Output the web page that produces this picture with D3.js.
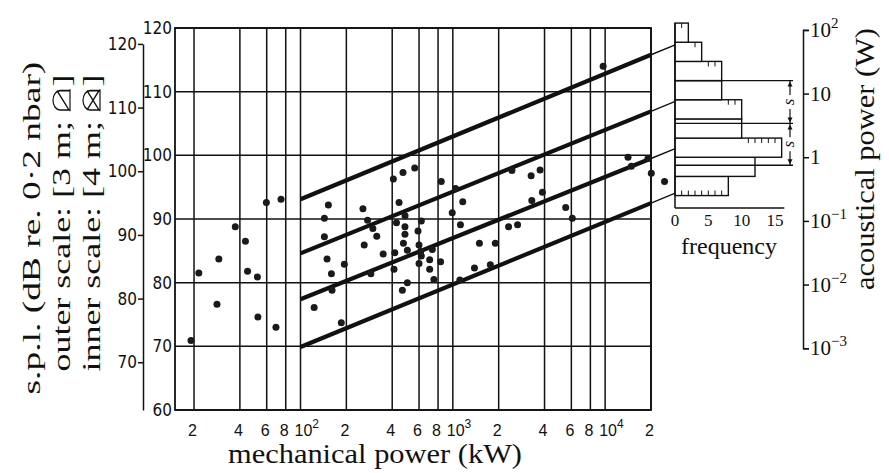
<!DOCTYPE html>
<html>
<head>
<meta charset="utf-8">
<script src="https://cdn.jsdelivr.net/npm/d3@7"></script>
<style>
body { margin: 0; background: #fff; }
svg { display: block; }
.sans { font-family: 'Liberation Sans Narrow', 'DejaVu Sans Condensed', 'Liberation Sans', sans-serif; fill: #111; }
.sansx { font-family: 'Liberation Sans', Arial, sans-serif; fill: #111; }
.serif { font-family: 'Liberation Serif', 'DejaVu Serif', serif; fill: #111; }
</style>
</head>
<body>
<svg id="chart"></svg>
<script>
// mechanical power (kW) and s.p.l. on the inner scale (dB) of every machine
var mechPower = [19.1,21.5,29.1,28.3,37.3,43.5,44.9,52.1,52.5,69,
    59.7,74.5,143.5,152.4,143.5,149.4,159.6,161,122.9,194,
    185.3,257,275.6,298.5,316.7,262,349,289.7,411,466.5,
    503,416,426.6,443.6,485.6,485,485,474,503,591,
    621,600,621,615,600,704.7,704.7,733,831,751,
    407,471,562,840,1042,1162,991,1122,1495,1901,
    2323,2661,1387,1763,1112,5508,6086,2443,3266,3740,
    3873,3300,14130,14860,19090,20090,24550,9700];
var spl = [70.9,81.5,83.7,76.6,88.8,86.5,81.8,80.9,74.6,73.0,
    92.6,93.1,90.1,92.2,87.2,83.7,81.4,78.8,76.1,82.9,
    73.7,91.6,89.8,88.5,87.3,85.9,84.5,81.4,82.1,78.8,
    80.0,84.7,89.4,92.6,90.5,88.8,87.6,86.2,85.1,88.1,
    89.7,85.9,84.2,84.9,83.0,83.6,82.1,85.2,83.3,80.5,
    96.3,97.3,98.0,95.9,94.8,92.7,91.0,89.1,86.2,86.2,
    88.8,89.1,82.3,82.8,80.4,91.8,90.1,97.6,96.8,97.7,
    94.2,92.9,99.7,98.3,99.5,97.2,95.9,114.0];

// x axis
var xTickValues = [20,40,60,80,100,200,400,600,800,1000,2000,4000,6000,8000,10000,20000];
var xTickLabels = ['2','4','6','8','10^2','2','4','6','8','10^3','2','4','6','8','10^4','2'];

// y axes (dB)
var innerTicks = [60,70,80,90,100,110,120];
var outerTicks = [70,80,90,100,110,120];
var outerOffset = 2.5; // 3 m vs 4 m

// acoustical power axis (W)
var powerTicks = [1e2,1e1,1,1e-1,1e-2,1e-3];
var powerTickLabels = ['10^2','10','1','10^\u22121','10^\u22122','10^\u22123'];

// histogram of acoustical power
var histEdges = [0.25,0.5,1,2,4,8,16,32,64,128];
var histCounts = [8,12,16,10,10,7,7,4,2];
var freqTicks = [0,5,10,15];
var spreadW = [16,3.4,0.75];

// four band lines: dB at 100 kW, 20000 kW and at the histogram
var bandKW = [100,20000,29100];
var bandStart = [93.1,84.6,77.4,69.9];
var bandEnd = [115.8,106.9,99.5,92.5];
var bandTip = [117.4,108.5,101.1,94.1];

var svg = d3.select('#chart').attr('width', 889).attr('height', 473);

var frame = {left: 175, right: 651, top: 28, bottom: 410};
var x = d3.scaleLog().domain([15, 20000]).range([frame.left, frame.right]);
var y = d3.scaleLinear().domain([60, 120]).range([frame.bottom, frame.top]);
var yOuter = d3.scaleLinear().domain([60 + outerOffset, 120])
    .range([frame.bottom, y(120 - outerOffset)]);
var pw = d3.scaleLog().domain([1e-3, 1e2]).range([y(69.7), y(119.7)]);
var fr = d3.scaleLinear().domain([0, 15]).range([675, 775]);

function supText(sel, label, supSize, supDy) {
    var parts = label.split('^');
    sel.append('tspan').text(parts[0]);
    if (parts.length > 1) {
        sel.append('tspan').attr('dy', -supDy).style('font-size', supSize + 'px').text(parts[1]);
    }
}

drawGrid();
drawBands();
drawPoints();
drawAxes();
drawHistogram();
drawTitles();

function drawGrid() {
    var g = svg.append('g').attr('stroke', '#111').attr('fill', 'none');
    g.selectAll('.vgrid')
        .data(xTickValues)
        .enter().append('line')
        .attr('x1', function(d) { return x(d); })
        .attr('x2', function(d) { return x(d); })
        .attr('y1', frame.top).attr('y2', frame.bottom)
        .attr('stroke-width', 1.5);
    g.selectAll('.hgrid')
        .data(innerTicks)
        .enter().append('line')
        .attr('x1', frame.left).attr('x2', frame.right)
        .attr('y1', function(d) { return y(d); })
        .attr('y2', function(d) { return y(d); })
        .attr('stroke-width', 1.5);
    g.append('rect')
        .attr('x', frame.left).attr('y', frame.top)
        .attr('width', frame.right - frame.left)
        .attr('height', frame.bottom - frame.top)
        .attr('stroke-width', 1.8);
}

function drawBands() {
    var g = svg.append('g').attr('stroke', '#111').attr('fill', 'none');
    bandStart.forEach(function(d, i) {
        g.append('line')
            .attr('x1', x(bandKW[0])).attr('y1', y(bandStart[i]))
            .attr('x2', x(bandKW[1])).attr('y2', y(bandEnd[i]))
            .attr('stroke-width', 4.2);
        g.append('line')
            .attr('x1', x(bandKW[1])).attr('y1', y(bandEnd[i]))
            .attr('x2', x(bandKW[2])).attr('y2', y(bandTip[i]))
            .attr('stroke-width', 1.4);
    });
}

function drawPoints() {
    svg.append('g').selectAll('circle')
        .data(mechPower)
        .enter().append('circle')
        .attr('cx', function(d) { return x(d); })
        .attr('cy', function(d, i) { return y(spl[i]); })
        .attr('r', 3.5)
        .attr('fill', '#1a1a1a');
}

function drawAxes() {
    // x labels
    var xl = svg.append('g').attr('class', 'sansx').style('font-size', '16px');
    xTickValues.forEach(function(d, i) {
        var t = xl.append('text').attr('y', 436);
        supText(t, xTickLabels[i], 12, 8);
        if (xTickLabels[i].indexOf('^') < 0) {
            t.attr('x', x(d) - 1.5).attr('text-anchor', 'middle');
        } else {
            t.attr('x', x(d) - 6);
        }
    });

    // inner scale labels
    svg.append('g').attr('class', 'sans').style('font-size', '17px')
        .selectAll('text')
        .data(innerTicks)
        .enter().append('text')
        .attr('x', frame.left - 3)
        .attr('y', function(d) { return y(d); })
        .attr('dy', '0.36em')
        .attr('text-anchor', 'end')
        .text(function(d) { return d; });

    // outer scale axis
    var outer = svg.append('g')
        .attr('transform', 'translate(143,0)')
        .call(d3.axisLeft(yOuter).tickValues(outerTicks).tickSize(5).tickSizeOuter(0));
    outer.select('.domain').attr('stroke', '#111').attr('stroke-width', 1.5);
    outer.selectAll('.tick line').attr('stroke', '#111').attr('stroke-width', 1.5);
    outer.selectAll('.tick text')
        .attr('class', 'sans')
        .style('font-size', '17px')
        .attr('x', -6)
        .attr('fill', '#111');

    // acoustical power axis
    var right = svg.append('g')
        .attr('transform', 'translate(803,0)')
        .call(d3.axisRight(pw).tickValues(powerTicks).tickSize(6).tickSizeOuter(6).tickFormat(''));
    right.select('.domain').attr('stroke', '#111').attr('stroke-width', 1.5);
    right.selectAll('.tick line').attr('stroke', '#111').attr('stroke-width', 1.5);
    var rl = svg.append('g').attr('class', 'serif').style('font-size', '21px');
    powerTicks.forEach(function(d, i) {
        var t = rl.append('text').attr('x', 810).attr('y', pw(d) + 7);
        supText(t, powerTickLabels[i], 15, 9);
    });
}

function drawHistogram() {
    var g = svg.append('g').attr('stroke', '#111').attr('fill', 'none');
    var axisY = 208;
    histCounts.forEach(function(c, i) {
        var y0 = pw(histEdges[i]), y1 = pw(histEdges[i + 1]);
        g.append('rect')
            .attr('x', fr(0)).attr('y', y1)
            .attr('width', fr(c) - fr(0)).attr('height', y0 - y1)
            .attr('fill', '#fff')
            .attr('stroke-width', 1.4);
        // tally ticks along the part of the top edge not shared with the bar above
        var above = i + 1 < histCounts.length ? histCounts[i + 1] : 0;
        for (var k = above + 1; k < c; k++) {
            g.append('line')
                .attr('x1', fr(k)).attr('x2', fr(k))
                .attr('y1', y1).attr('y2', y1 + 5)
                .attr('stroke-width', 1);
        }
        if (i === 0) {
            for (var m = 1; m < c; m++) {
                g.append('line')
                    .attr('x1', fr(m)).attr('x2', fr(m))
                    .attr('y1', y0 - 5).attr('y2', y0)
                    .attr('stroke-width', 1);
            }
        }
    });
    g.append('line')
        .attr('x1', fr(0)).attr('x2', fr(0))
        .attr('y1', pw(histEdges[histEdges.length - 1])).attr('y2', axisY)
        .attr('stroke-width', 1.5);
    g.append('line')
        .attr('x1', fr(0)).attr('x2', fr(16.4))
        .attr('y1', axisY).attr('y2', axisY)
        .attr('stroke-width', 1.5);

    svg.append('g').attr('class', 'serif').style('font-size', '17px')
        .selectAll('text')
        .data(freqTicks)
        .enter().append('text')
        .attr('x', function(d) { return fr(d); })
        .attr('y', axisY + 18)
        .attr('text-anchor', 'middle')
        .text(function(d) { return d; });

    svg.append('text').attr('class', 'serif')
        .attr('x', 729).attr('y', 254)
        .attr('text-anchor', 'middle')
        .style('font-size', '24px')
        .text('frequency');

    // spread brackets
    var bx = 790;
    spreadW.forEach(function(w) {
        g.append('line')
            .attr('x1', fr(0)).attr('x2', bx + 3)
            .attr('y1', pw(w)).attr('y2', pw(w))
            .attr('stroke-width', 1.4);
    });
    for (var j = 0; j < spreadW.length - 1; j++) {
        var ya = pw(spreadW[j]), yb = pw(spreadW[j + 1]), ym = (ya + yb) / 2;
        g.append('line').attr('x1', bx).attr('x2', bx).attr('y1', ya).attr('y2', ym - 7).attr('stroke-width', 1.2);
        g.append('line').attr('x1', bx).attr('x2', bx).attr('y1', ym + 7).attr('y2', yb).attr('stroke-width', 1.2);
        g.append('path')
            .attr('d', 'M' + bx + ',' + (ya + 1) + 'l-2.5,5h5z M' + bx + ',' + (yb - 1) + 'l-2.5,-5h5z')
            .attr('fill', '#111').attr('stroke', 'none');
        svg.append('text').attr('class', 'serif')
            .attr('transform', 'translate(' + (bx + 4) + ',' + ym + ') rotate(-90)')
            .attr('text-anchor', 'middle')
            .style('font-size', '17px').style('font-style', 'italic')
            .text('s');
    }
}

function drawTitles() {
    svg.append('text').attr('class', 'serif')
        .attr('x', 375).attr('y', 463)
        .attr('text-anchor', 'middle')
        .attr('textLength', 294).attr('lengthAdjust', 'spacingAndGlyphs')
        .style('font-size', '28px')
        .text('mechanical power (kW)');

    svg.append('text').attr('class', 'serif')
        .attr('transform', 'translate(874,159) rotate(-90)')
        .attr('text-anchor', 'middle')
        .attr('textLength', 262).attr('lengthAdjust', 'spacingAndGlyphs')
        .style('font-size', '28px')
        .text('acoustical power (W)');

    sideLabel(40, 228, 333, 's.p.l. (dB re. 0\u00b72 nbar)', null, '');
    sideLabel(70, 223, 297, 'outer scale: [3 m;', 1, ']');
    sideLabel(100, 223, 297, 'inner scale: [4 m;', 2, ']');
}

// rotated label, stretched along its length to the target size
function sideLabel(bx, cy, len, textA, cross, textB) {
    var g = svg.append('g').attr('transform', 'translate(' + bx + ',' + cy + ') rotate(-90)');
    var inner = g.append('g');
    var a = inner.append('text').attr('class', 'serif').style('font-size', '26px').text(textA);
    var wa = a.node().getComputedTextLength();
    var symW = 0, gap = 0;
    if (cross) {
        symW = 14; gap = 8;
        var sx = wa + gap, h = 17, r = symW / 2;
        var d = 'M' + (sx - 1) + ',0h' + (symW + 2) +
            'M' + sx + ',0v' + (-(h - r)) + 'a' + r + ',' + r + ' 0 0 1 ' + symW + ',0v' + (h - r) +
            'M' + sx + ',-1L' + (sx + symW) + ',' + (-h + 4);
        if (cross === 2) d += 'M' + (sx + symW) + ',-1L' + sx + ',' + (-h + 4);
        inner.append('path').attr('d', d)
            .attr('fill', 'none').attr('stroke', '#111').attr('stroke-width', 1.2);
    }
    var wb = 0;
    if (textB) {
        var b = inner.append('text').attr('class', 'serif').style('font-size', '26px')
            .attr('x', wa + symW + gap + 3).text(textB);
        wb = b.node().getComputedTextLength();
    }
    var total = wa + symW + (cross ? gap + 3 : 0) + wb;
    var s = len / total;
    inner.attr('transform', 'scale(' + s + ',1) translate(' + (-total / 2) + ',0)');
}
</script>
</body>
</html>
